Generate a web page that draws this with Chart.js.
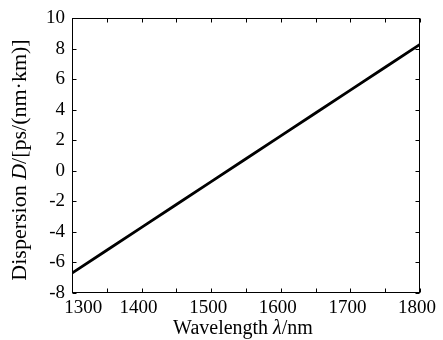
<!DOCTYPE html>
<html>
<head>
<meta charset="utf-8">
<script src="https://cdn.jsdelivr.net/npm/chart.js@4/dist/chart.umd.min.js"></script>
<style>
  html, body { margin: 0; padding: 0; background: #fff; }
  #wrap { width: 443px; height: 340px; }
</style>
</head>
<body>
<div id="wrap"><canvas id="chart" width="443" height="340"></canvas></div>
<script>
// --- data ---
const wavelengths = [1300, 1350, 1400, 1450, 1500, 1550, 1600, 1650, 1700, 1750, 1800];
const dispersion  = [-6.7, -5.2, -3.7, -2.2, -0.7, 0.8, 2.3, 3.8, 5.3, 6.8, 8.3];
const xTickLabels = ['1300', '1400', '1500', '1600', '1700', '1800'];
const yTickLabels = ['-8', '-6', '-4', '-2', '0', '2', '4', '6', '8', '10'];

const FONT = '"Liberation Serif", "Times New Roman", serif';

// 枠線と内向きの目盛り、軸タイトルを描くプラグイン
const framePlugin = {
    id: 'frame',
    afterDraw(chart) {
        const ctx = chart.ctx;
        const a = chart.chartArea;
        const xs = chart.scales.x, ys = chart.scales.y;
        const L = Math.round(a.left) + 0.5, R = Math.round(a.right) - 0.5;
        const T = Math.round(a.top) + 0.5, B = Math.round(a.bottom) - 0.5;
        ctx.save();
        ctx.strokeStyle = '#000';
        ctx.lineWidth = 1;
        ctx.strokeRect(L, T, R - L, B - T);
        const len = 4;
        ctx.beginPath();
        xs.ticks.forEach(t => {
            const px = Math.round(xs.getPixelForValue(t.value)) + 0.5;
            ctx.moveTo(px, B); ctx.lineTo(px, B - len);
            ctx.moveTo(px, T); ctx.lineTo(px, T + len);
        });
        ys.ticks.forEach(t => {
            const py = Math.round(ys.getPixelForValue(t.value)) + 0.5;
            ctx.moveTo(L, py); ctx.lineTo(L + len, py);
            ctx.moveTo(R, py); ctx.lineTo(R - len, py);
        });
        ctx.stroke();

        // 軸タイトル（一部イタリック）
        drawMixed(ctx, [['Wavelength ', false], ['λ', true], ['/nm', false]], 243, 329, 0, 20);
        drawMixed(ctx, [['Dispersion ', false], ['D', true], ['/[ps/(nm·km)]', false]], 20, 160, -Math.PI / 2, 22);
        ctx.restore();
    }
};

function drawMixed(ctx, parts, cx, cy, rot, size) {
    ctx.save();
    ctx.translate(cx, cy);
    ctx.rotate(rot);
    ctx.fillStyle = '#000';
    ctx.textBaseline = 'middle';
    ctx.textAlign = 'left';
    let total = 0;
    const widths = parts.map(([s, it]) => {
        ctx.font = (it ? 'italic ' : '') + size + 'px ' + FONT;
        const w = ctx.measureText(s).width;
        total += w;
        return w;
    });
    let x = -total / 2;
    parts.forEach(([s, it], i) => {
        ctx.font = (it ? 'italic ' : '') + size + 'px ' + FONT;
        ctx.fillText(s, x, 0);
        x += widths[i];
    });
    ctx.restore();
}

new Chart(document.getElementById('chart'), {
    type: 'line',
    data: {
        datasets: [{
            data: wavelengths.map((w, i) => ({ x: w, y: dispersion[i] })),
            borderColor: '#000',
            borderWidth: 2.8,
            pointRadius: 0,
            tension: 0,
            fill: false
        }]
    },
    options: {
        responsive: false,
        animation: false,
        events: [],
        layout: { padding: { top: 12, right: 13, left: 0, bottom: 0 } },
        plugins: { legend: { display: false }, tooltip: { enabled: false } },
        scales: {
            x: {
                type: 'linear',
                min: 1300,
                max: 1800,
                grid: { display: false, drawTicks: false },
                border: { display: false },
                afterFit: s => { s.height = 47; },
                ticks: {
                    stepSize: 50,
                    autoSkip: false,
                    maxRotation: 0,
                    padding: 4,
                    labelOffset: -3,
                    color: '#000',
                    font: { family: FONT, size: 19 },
                    callback: v => {
                        const lbl = String(v);
                        if (!xTickLabels.includes(lbl)) return '';
                        return lbl === '1300' ? '      ' + lbl : lbl;
                    }
                }
            },
            y: {
                min: -8,
                max: 10,
                grid: { display: false, drawTicks: false },
                border: { display: false },
                afterFit: s => { s.width = 72; },
                ticks: {
                    stepSize: 2,
                    padding: 7,
                    color: '#000',
                    font: { family: FONT, size: 19 },
                    callback: v => yTickLabels.includes(String(v)) ? String(v) : ''
                }
            }
        }
    },
    plugins: [framePlugin]
});
</script>
</body>
</html>
